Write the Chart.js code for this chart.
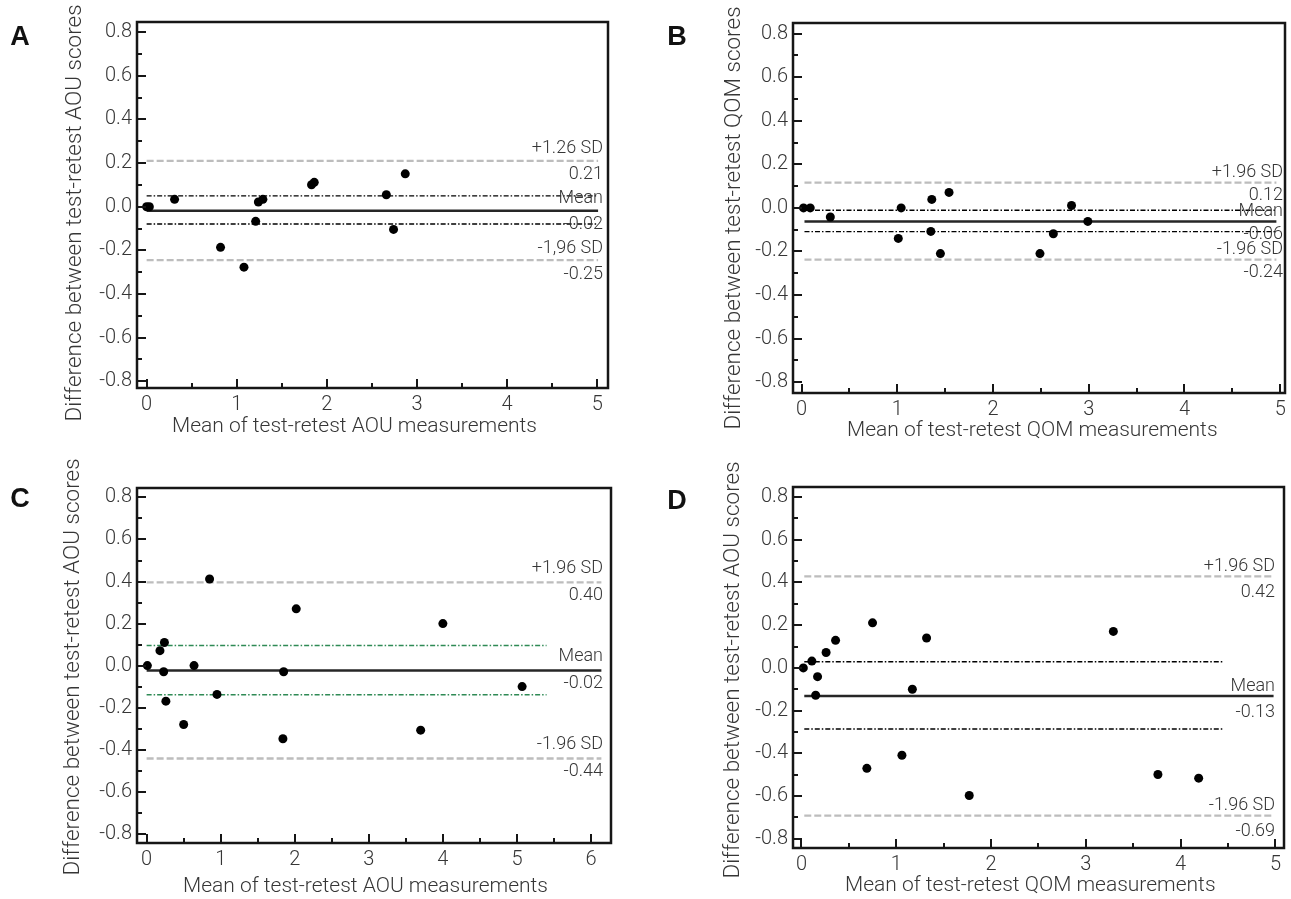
<!DOCTYPE html>
<html>
<head>
<meta charset="utf-8">
<script src="https://cdn.jsdelivr.net/npm/chart.js@4.4.1/dist/chart.umd.min.js"></script>
<style>
  body { margin: 0; background: #fff; }
  #wrap { position: relative; width: 1291px; height: 899px; }
  canvas { position: absolute; }
</style>
</head>
<body>
<div id="wrap">
  <canvas id="pA" width="645" height="449" style="left:0;top:0"></canvas>
  <canvas id="pB" width="646" height="449" style="left:645px;top:0"></canvas>
  <canvas id="pC" width="645" height="450" style="left:0;top:449px"></canvas>
  <canvas id="pD" width="646" height="450" style="left:645px;top:449px"></canvas>
</div>
<script>
const FONT = 'Roboto';
const W = '300';
const INK = '#161616';
const TXT = '#363636';

// --- A: AOU, test-retest ---
const aMean = [0.00, 0.03, 0.31, 0.82, 1.08, 1.21, 1.24, 1.29, 1.83, 1.86, 2.66, 2.74, 2.87];
const aDiff = [0.00, 0.00, 0.034, -0.186, -0.277, -0.067, 0.022, 0.034, 0.101, 0.112, 0.055, -0.104, 0.151];
// upper LoA, upper CI, mean, lower CI, lower LoA
const aLines = [0.21, 0.05, -0.018, -0.079, -0.245];
const aSpan = [0, 5.01];
const aCiSpan = [0, 5.01];
const aNotes = ['+1.26 SD', '0.21', 'Mean', '-0.02', '-1,96 SD', '-0.25'];

// --- B: QOM ---
const bMean = [0.02, 0.09, 0.30, 1.01, 1.04, 1.35, 1.36, 1.45, 1.54, 2.49, 2.63, 2.82, 2.99];
const bDiff = [0.00, 0.00, -0.042, -0.14, 0.00, -0.108, 0.039, -0.21, 0.071, -0.21, -0.119, 0.011, -0.062];
const bLines = [0.116, -0.011, -0.062, -0.109, -0.238];
const bSpan = [0.03, 4.96];
const bCiSpan = [0.03, 4.96];
const bNotes = ['+1.96 SD', '0.12', 'Mean', '-0.06', '-1.96 SD', '-0.24'];

// --- C: AOU ---
const cMean = [0.01, 0.18, 0.24, 0.23, 0.26, 0.50, 0.64, 0.85, 0.95, 1.85, 1.84, 2.02, 3.70, 4.00, 5.07];
const cDiff = [0.00, 0.071, 0.11, -0.029, -0.169, -0.28, 0.00, 0.412, -0.137, -0.029, -0.348, 0.27, -0.307, 0.20, -0.10];
const cLines = [0.396, 0.096, -0.023, -0.139, -0.442];
const cSpan = [0, 6.14];
const cCiSpan = [0, 5.4];
const cNotes = ['+1.96 SD', '0.40', 'Mean', '-0.02', '-1.96 SD', '-0.44'];

// --- D: QOM on x, AOU on y ---
const dMean = [0.02, 0.11, 0.17, 0.15, 0.26, 0.36, 0.69, 0.75, 1.06, 1.17, 1.32, 1.77, 3.29, 3.76, 4.19];
const dDiff = [0.00, 0.032, -0.041, -0.128, 0.072, 0.129, -0.47, 0.211, -0.409, -0.10, 0.14, -0.597, 0.171, -0.499, -0.516];
const dLines = [0.429, 0.029, -0.132, -0.286, -0.691];
const dSpan = [0.03, 4.98];
const dCiSpan = [0.03, 4.45];
const dNotes = ['+1.96 SD', '0.42', 'Mean', '-0.13', '-1.96 SD', '-0.69'];

const xTicksStep = 1;
const yTicksStep = 0.2;

function hline(y, span) {
  return [{ x: span[0], y: y }, { x: span[1], y: y }];
}

// frame, inward tick marks, panel letter, axis titles and the SD labels
const decor = {
  id: 'decor',
  afterDatasetsDraw(chart, args, o) {
    const { ctx, chartArea: a, scales: { y } } = chart;
    ctx.save();
    ctx.font = W + ' 18px ' + FONT;
    ctx.fillStyle = TXT;
    ctx.textAlign = 'right';
    ctx.textBaseline = 'middle';
    const tx = a.right - o.noteRight;
    [[0, 0], [0, 1], [2, 0], [2, 1], [4, 0], [4, 1]].forEach(([li, below], i) => {
      const py = y.getPixelForValue(o.lines[li]) + o.noteGap[below];
      ctx.fillText(o.notes[i], tx, py);
    });
    ctx.restore();
  },
  afterDraw(chart, args, o) {
    const { ctx, chartArea: a, scales: { x, y } } = chart;
    ctx.save();
    ctx.strokeStyle = INK;
    ctx.lineWidth = 2;
    ctx.beginPath();
    for (let k = Math.ceil(y.min * 10); k <= Math.floor(y.max * 10); k++) {
      const py = Math.round(y.getPixelForValue(k / 10));
      const len = k % 2 === 0 ? 9 : 5;
      ctx.moveTo(a.left, py);
      ctx.lineTo(a.left + len, py);
    }
    for (let k = Math.ceil(x.min * 2); k <= Math.floor(x.max * 2); k++) {
      const px = Math.round(x.getPixelForValue(k / 2));
      const len = k % 2 === 0 ? 9 : 5;
      ctx.moveTo(px, a.bottom);
      ctx.lineTo(px, a.bottom - len);
    }
    ctx.stroke();
    ctx.lineWidth = 2.5;
    ctx.strokeRect(a.left, a.top, a.right - a.left, a.bottom - a.top);

    ctx.fillStyle = '#111';
    ctx.font = 'bold 27px "Liberation Sans"';
    ctx.textAlign = 'center';
    ctx.textBaseline = 'middle';
    ctx.fillText(o.letter, o.letterAt[0], o.letterAt[1]);

    ctx.fillStyle = TXT;
    ctx.font = W + ' 21px ' + FONT;
    ctx.textAlign = 'left';
    ctx.fillText(o.xTitle, o.xTitleAt[0], o.xTitleAt[1]);

    // y title sits a bit below the plot's middle in the original
    ctx.font = W + ' 22.5px ' + FONT;
    ctx.textAlign = 'center';
    ctx.translate(o.yTitleAt[0], o.yTitleAt[1]);
    ctx.rotate(-Math.PI / 2);
    ctx.fillText(o.yTitle, 0, 0);
    ctx.restore();
  }
};

function makePanel(id, p) {
  const ci = p.ciColor || '#000';
  return new Chart(document.getElementById(id), {
    type: 'scatter',
    data: {
      datasets: [
        { data: p.mean.map((m, i) => ({ x: m, y: p.diff[i] })), backgroundColor: '#000', borderWidth: 0, pointRadius: 4.5 },
        { type: 'line', data: hline(p.lines[2], p.span), borderColor: '#262626', borderWidth: 2.5, pointRadius: 0 },
        { type: 'line', data: hline(p.lines[1], p.ciSpan), borderColor: ci, borderWidth: 1.4, borderDash: [5, 2, 1.5, 2], pointRadius: 0 },
        { type: 'line', data: hline(p.lines[3], p.ciSpan), borderColor: ci, borderWidth: 1.4, borderDash: [5, 2, 1.5, 2], pointRadius: 0 },
        { type: 'line', data: hline(p.lines[0], p.span), borderColor: '#bdbdbd', borderWidth: 2.3, borderDash: [7, 3], pointRadius: 0 },
        { type: 'line', data: hline(p.lines[4], p.span), borderColor: '#bdbdbd', borderWidth: 2.3, borderDash: [7, 3], pointRadius: 0 }
      ]
    },
    options: {
      responsive: false,
      animation: false,
      layout: { padding: { left: 0, top: p.area[1], right: p.size[0] - p.area[2], bottom: 0 } },
      plugins: {
        legend: { display: false },
        tooltip: { enabled: false },
        decor: {
          letter: p.letter, letterAt: p.letterAt, xTitle: p.xTitle, xTitleAt: p.xTitleAt,
          yTitle: p.yTitle, yTitleAt: p.yTitleAt,
          lines: p.lines, notes: p.notes, noteRight: p.noteRight, noteGap: p.noteGap
        }
      },
      scales: {
        x: {
          type: 'linear', min: p.xRange[0], max: p.xRange[1],
          grid: { display: false, drawTicks: false },
          border: { display: false },
          ticks: { stepSize: xTicksStep, includeBounds: false, padding: 5, color: TXT, font: { family: FONT, size: 20, weight: W } },
          afterFit: s => { s.height = p.size[1] - p.area[3]; }
        },
        y: {
          min: p.yRange[0], max: p.yRange[1],
          grid: { display: false, drawTicks: false },
          border: { display: false },
          ticks: { stepSize: yTicksStep, includeBounds: false, padding: 5, color: TXT, font: { family: FONT, size: 20, weight: W }, callback: v => v.toFixed(1) },
          afterFit: s => { s.width = p.area[0]; }
        }
      }
    },
    plugins: [decor]
  });
}

makePanel('pA', {
  letter: 'A', letterAt: [20, 38], size: [645, 449], area: [137, 22, 608, 388],
  xRange: [-0.107, 5.12], yRange: [-0.831, 0.847],
  mean: aMean, diff: aDiff, lines: aLines, span: aSpan, ciSpan: aCiSpan, notes: aNotes,
  noteRight: 5, noteGap: [-12, 14],
  yTitle: 'Difference between test-retest AOU scores', yTitleAt: [75, 213],
  xTitle: 'Mean of test-retest AOU measurements', xTitleAt: [172, 427]
});
makePanel('pB', {
  letter: 'B', letterAt: [32, 38], size: [646, 449], area: [148, 23, 640, 393],
  xRange: [-0.09, 5.05], yRange: [-0.85, 0.849],
  mean: bMean, diff: bDiff, lines: bLines, span: bSpan, ciSpan: bCiSpan, notes: bNotes,
  noteRight: 2, noteGap: [-10, 13],
  yTitle: 'Difference between test-retest QOM scores', yTitleAt: [89, 218],
  xTitle: 'Mean of test-retest QOM measurements', xTitleAt: [202, 431]
});
makePanel('pC', {
  letter: 'C', letterAt: [20, 51], size: [645, 450], area: [137, 39, 611, 394],
  xRange: [-0.13, 6.27], yRange: [-0.844, 0.845],
  mean: cMean, diff: cDiff, lines: cLines, span: cSpan, ciSpan: cCiSpan, notes: cNotes, ciColor: '#2f8a55',
  noteRight: 8, noteGap: [-14, 13],
  yTitle: 'Difference between test-retest AOU scores', yTitleAt: [73, 218],
  xTitle: 'Mean of test-retest AOU measurements', xTitleAt: [183, 438]
});
makePanel('pD', {
  letter: 'D', letterAt: [32, 53], size: [646, 450], area: [148, 38, 639, 399],
  xRange: [-0.089, 5.09], yRange: [-0.843, 0.847],
  mean: dMean, diff: dDiff, lines: dLines, span: dSpan, ciSpan: dCiSpan, notes: dNotes,
  noteRight: 9, noteGap: [-10, 16],
  yTitle: 'Difference between test-retest AOU scores', yTitleAt: [88, 221],
  xTitle: 'Mean of test-retest QOM measurements', xTitleAt: [200, 437]
});
</script>
</body>
</html>
